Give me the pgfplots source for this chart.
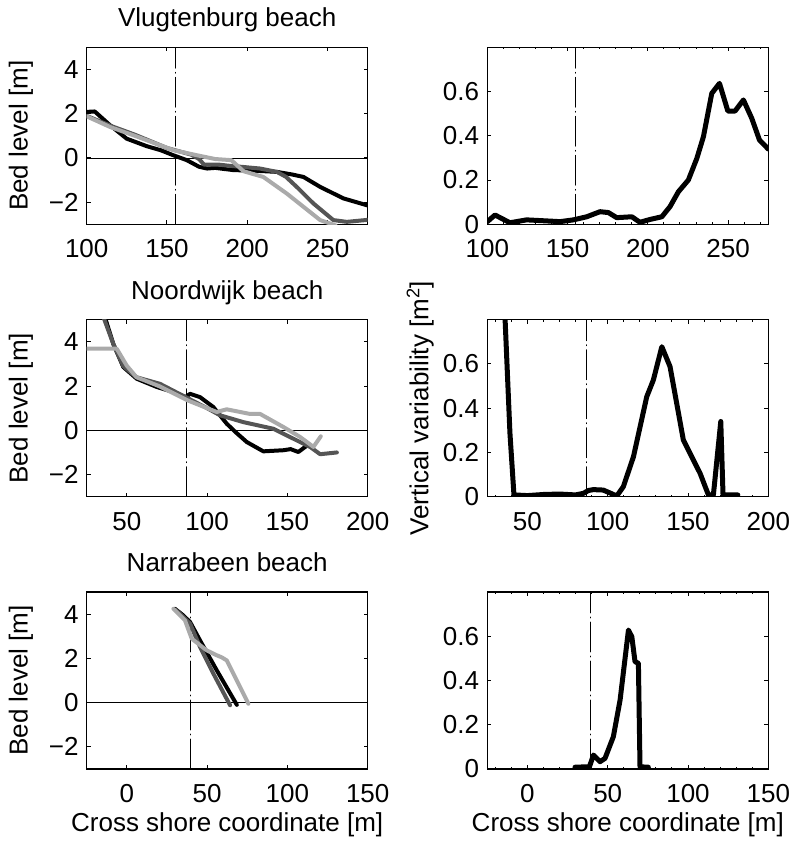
\documentclass[border=0pt]{standalone}
\usepackage{fontspec}
\setmainfont{Liberation Sans}
\usepackage{pgfplots}
\pgfplotsset{compat=1.18}
\definecolor{dgray}{RGB}{85,85,85}
\definecolor{lgray}{RGB}{170,170,170}
\pgfplotsset{
  panel/.style={
    scale only axis, width=281pt, height=177pt,
    axis line style={line width=1.2pt},
    tick style={black, line width=1pt},
    major tick length=4pt, minor tick length=2pt,
    tick align=inside, tick pos=both,
    xticklabel pos=bottom, yticklabel pos=left,
    /pgf/number format/assume math mode=true,
    xticklabel style={inner sep=0pt, anchor=north, yshift=-15pt},
    yticklabel style={inner sep=0pt, anchor=east, xshift=-8pt},
    ylabel style={at={(axis description cs:-0.19,0.5)}, anchor=south, inner sep=0pt, rotate=0},
    xlabel style={at={(axis description cs:0.5,0)}, anchor=base, inner sep=0pt, yshift=-62pt},
    title style={at={(axis description cs:0.5,1)}, anchor=base, inner sep=0pt, yshift=14.6pt},
    every axis plot/.append style={line join=round, line cap=round},
  },
  bed/.style={panel, ymin=-3, ymax=5, ytick={-2,0,2,4}, yticklabels={−2,0,2,4}, ylabel={Bed level [m]}},
  var/.style={panel, ymin=0, ymax=0.8, ytick={0,0.2,0.4,0.6}, yticklabels={0,0.2,0.4,0.6}},
  dd/.style={black, line width=0.8pt, dash pattern=on 30pt off 4pt on 1pt off 4pt},
}
\begin{document}
\fontsize{26}{30}\selectfont
\begin{tikzpicture}
\path[use as bounding box] (0,0) rectangle (793pt,841pt);
% ---------- Row 1 ----------
\begin{axis}[bed, at={(86.7pt,616.7pt)}, anchor=south west,
  xmin=100, xmax=275, xtick={100,150,200,250}, title={Vlugtenburg beach}]
\addplot[black, line width=0.8pt] coordinates {(100,0) (275,0)};
\addplot[dd] coordinates {(155,-3) (155,5)};
\addplot[black, line width=4pt] coordinates {(100,2.08)(105,2.1)(114.5,1.48)(124.9,0.87)(137.4,0.53)(146,0.35)(154,0.12)(162.3,-0.1)(170,-0.4)(175,-0.48)(180,-0.45)(191.3,-0.55)(205,-0.58)(218.4,-0.63)(228,-0.75)(235,-0.86)(245.4,-1.31)(259.9,-1.83)(275,-2.15)};
\addplot[dgray, line width=4pt] coordinates {(100,1.9)(115,1.45)(130,1.05)(150,0.45)(165,0.15)(170,-0.05)(173,-0.3)(182,-0.3)(188,-0.35)(197.6,-0.41)(208,-0.48)(218.4,-0.63)(224,-0.85)(230.8,-1.31)(241.2,-2.06)(253.6,-2.81)(262,-2.89)(275,-2.8)};
\addplot[lgray, line width=4pt] coordinates {(100,1.88)(114.5,1.4)(130,1.0)(154,0.35)(170,0.1)(180,-0.05)(190,-0.1)(191.3,-0.18)(197.6,-0.6)(210,-0.86)(224.6,-1.61)(235,-2.21)(245.4,-2.81)(255,-3.05)};
\end{axis}
\begin{axis}[var, at={(487.3pt,616.7pt)}, anchor=south west,
  xmin=100, xmax=275, xtick={100,150,200,250}, minor xtick={110,120,...,270}]
\addplot[dd] coordinates {(155,0) (155,0.8)};
\addplot[black, line width=5pt] coordinates {(100,0.012)(104.8,0.042)(114.1,0.007)(124.5,0.02)(134.9,0.016)(145.3,0.012)(153.6,0.02)(161.9,0.034)(170.2,0.057)(175.4,0.053)(180.6,0.03)(190,0.034)(195.1,0.009)(201.4,0.022)(208.7,0.034)(213.8,0.08)(219,0.147)(225.2,0.2)(230.5,0.298)(234.6,0.396)(239.8,0.592)(244.6,0.637)(249.8,0.512)(254.3,0.512)(259.5,0.562)(264.7,0.479)(269.5,0.381)(275,0.34)};
\end{axis}
% ---------- Row 2 ----------
\begin{axis}[bed, at={(86.7pt,344.3pt)}, anchor=south west,
  xmin=25, xmax=200, xtick={50,100,150,200}, title={Noordwijk beach}]
\addplot[black, line width=0.8pt] coordinates {(25,0) (200,0)};
\addplot[dd] coordinates {(87,-3) (87,5)};
\addplot[black, line width=4pt] coordinates {(36.4,5.1)(41.6,3.9)(47.8,2.86)(56.2,2.33)(68.6,1.96)(79,1.73)(86.5,1.5)(89.4,1.65)(95.6,1.5)(103.9,1.05)(112.2,0.3)(118,-0.1)(124.7,-0.53)(135,-0.95)(147.5,-0.9)(152,-0.85)(156.8,-0.98)(162,-0.7)};
\addplot[dgray, line width=4pt] coordinates {(35,5.2)(41.6,3.9)(47.8,2.9)(56,2.4)(70.7,2.1)(80,1.75)(88,1.45)(100,1.0)(108,0.68)(122.6,0.37)(141.3,0.07)(157.9,-0.53)(164.1,-0.75)(170.4,-1.08)(180.8,-1.0)};
\addplot[lgray, line width=4pt] coordinates {(25,3.69)(43.7,3.69)(49.9,2.93)(56,2.4)(70,2.0)(88,1.35)(100,1.0)(106,0.83)(112.2,0.95)(126.7,0.74)(133,0.74)(147.5,0.15)(157.9,-0.3)(166.2,-0.75)(170.8,-0.27)};
\end{axis}
\begin{axis}[var, at={(487.3pt,344.3pt)}, anchor=south west,
  xmin=25, xmax=200, xtick={50,100,150,200}, minor xtick={30,40,...,190},
  ylabel={Vertical variability [m\textsuperscript{2}]}]
\addplot[dd] coordinates {(86.5,0) (86.5,0.8)};
\addplot[black, line width=5pt] coordinates {(35.5,0.9)(39.1,0.287)(41.6,0.008)(50,0.005)(60,0.01)(70,0.012)(80,0.008)(84.8,0.015)(88,0.028)(91,0.032)(97.2,0.03)(102,0.015)(105.6,0.003)(109.7,0.045)(116,0.18)(124.3,0.452)(128.4,0.527)(133.7,0.678)(138.8,0.588)(147.1,0.256)(153.3,0.166)(157.5,0.106)(162.7,0.008)(165.8,0.008)(170.4,0.34)(171.8,0.008)(181,0.008)};
\end{axis}
% ---------- Row 3 ----------
\begin{axis}[bed, at={(86.7pt,72pt)}, anchor=south west,
  xmin=-25, xmax=150, xtick={0,50,100,150}, title={Narrabeen beach},
  xlabel={Cross shore coordinate [m]}]
\addplot[black, line width=0.8pt] coordinates {(-25,0) (150,0)};
\addplot[dd] coordinates {(39.5,-3) (39.5,5)};
\addplot[black, line width=4pt] coordinates {(30,4.24)(35,3.95)(39.4,3.64)(45.6,2.81)(56,1.46)(68.5,-0.1)};
\addplot[dgray, line width=4pt] coordinates {(30.5,4.2)(39.4,3.57)(45.6,2.51)(53.9,1.31)(64.3,-0.12)};
\addplot[lgray, line width=4pt] coordinates {(29,4.24)(36.2,3.72)(40.4,2.89)(49.8,2.36)(56,2.14)(59,2.05)(62.2,1.91)(68.5,1.0)(75.7,-0.05)};
\end{axis}
\begin{axis}[var, at={(487.3pt,72pt)}, anchor=south west,
  xmin=-25, xmax=150, xtick={0,50,100,150}, minor xtick={-20,-10,...,140},
  xlabel={Cross shore coordinate [m]}]
\addplot[dd] coordinates {(39,0) (39,0.8)};
\addplot[black, line width=5pt] coordinates {(29.6,0.008)(36.9,0.01)(38.5,0.008)(41.1,0.063)(45.2,0.033)(48.3,0.048)(53.5,0.146)(57.7,0.312)(62.9,0.628)(65,0.598)(67,0.485)(69.1,0.478)(70.1,0.01)(75.3,0.008)};
\end{axis}
\end{tikzpicture}
\end{document}
